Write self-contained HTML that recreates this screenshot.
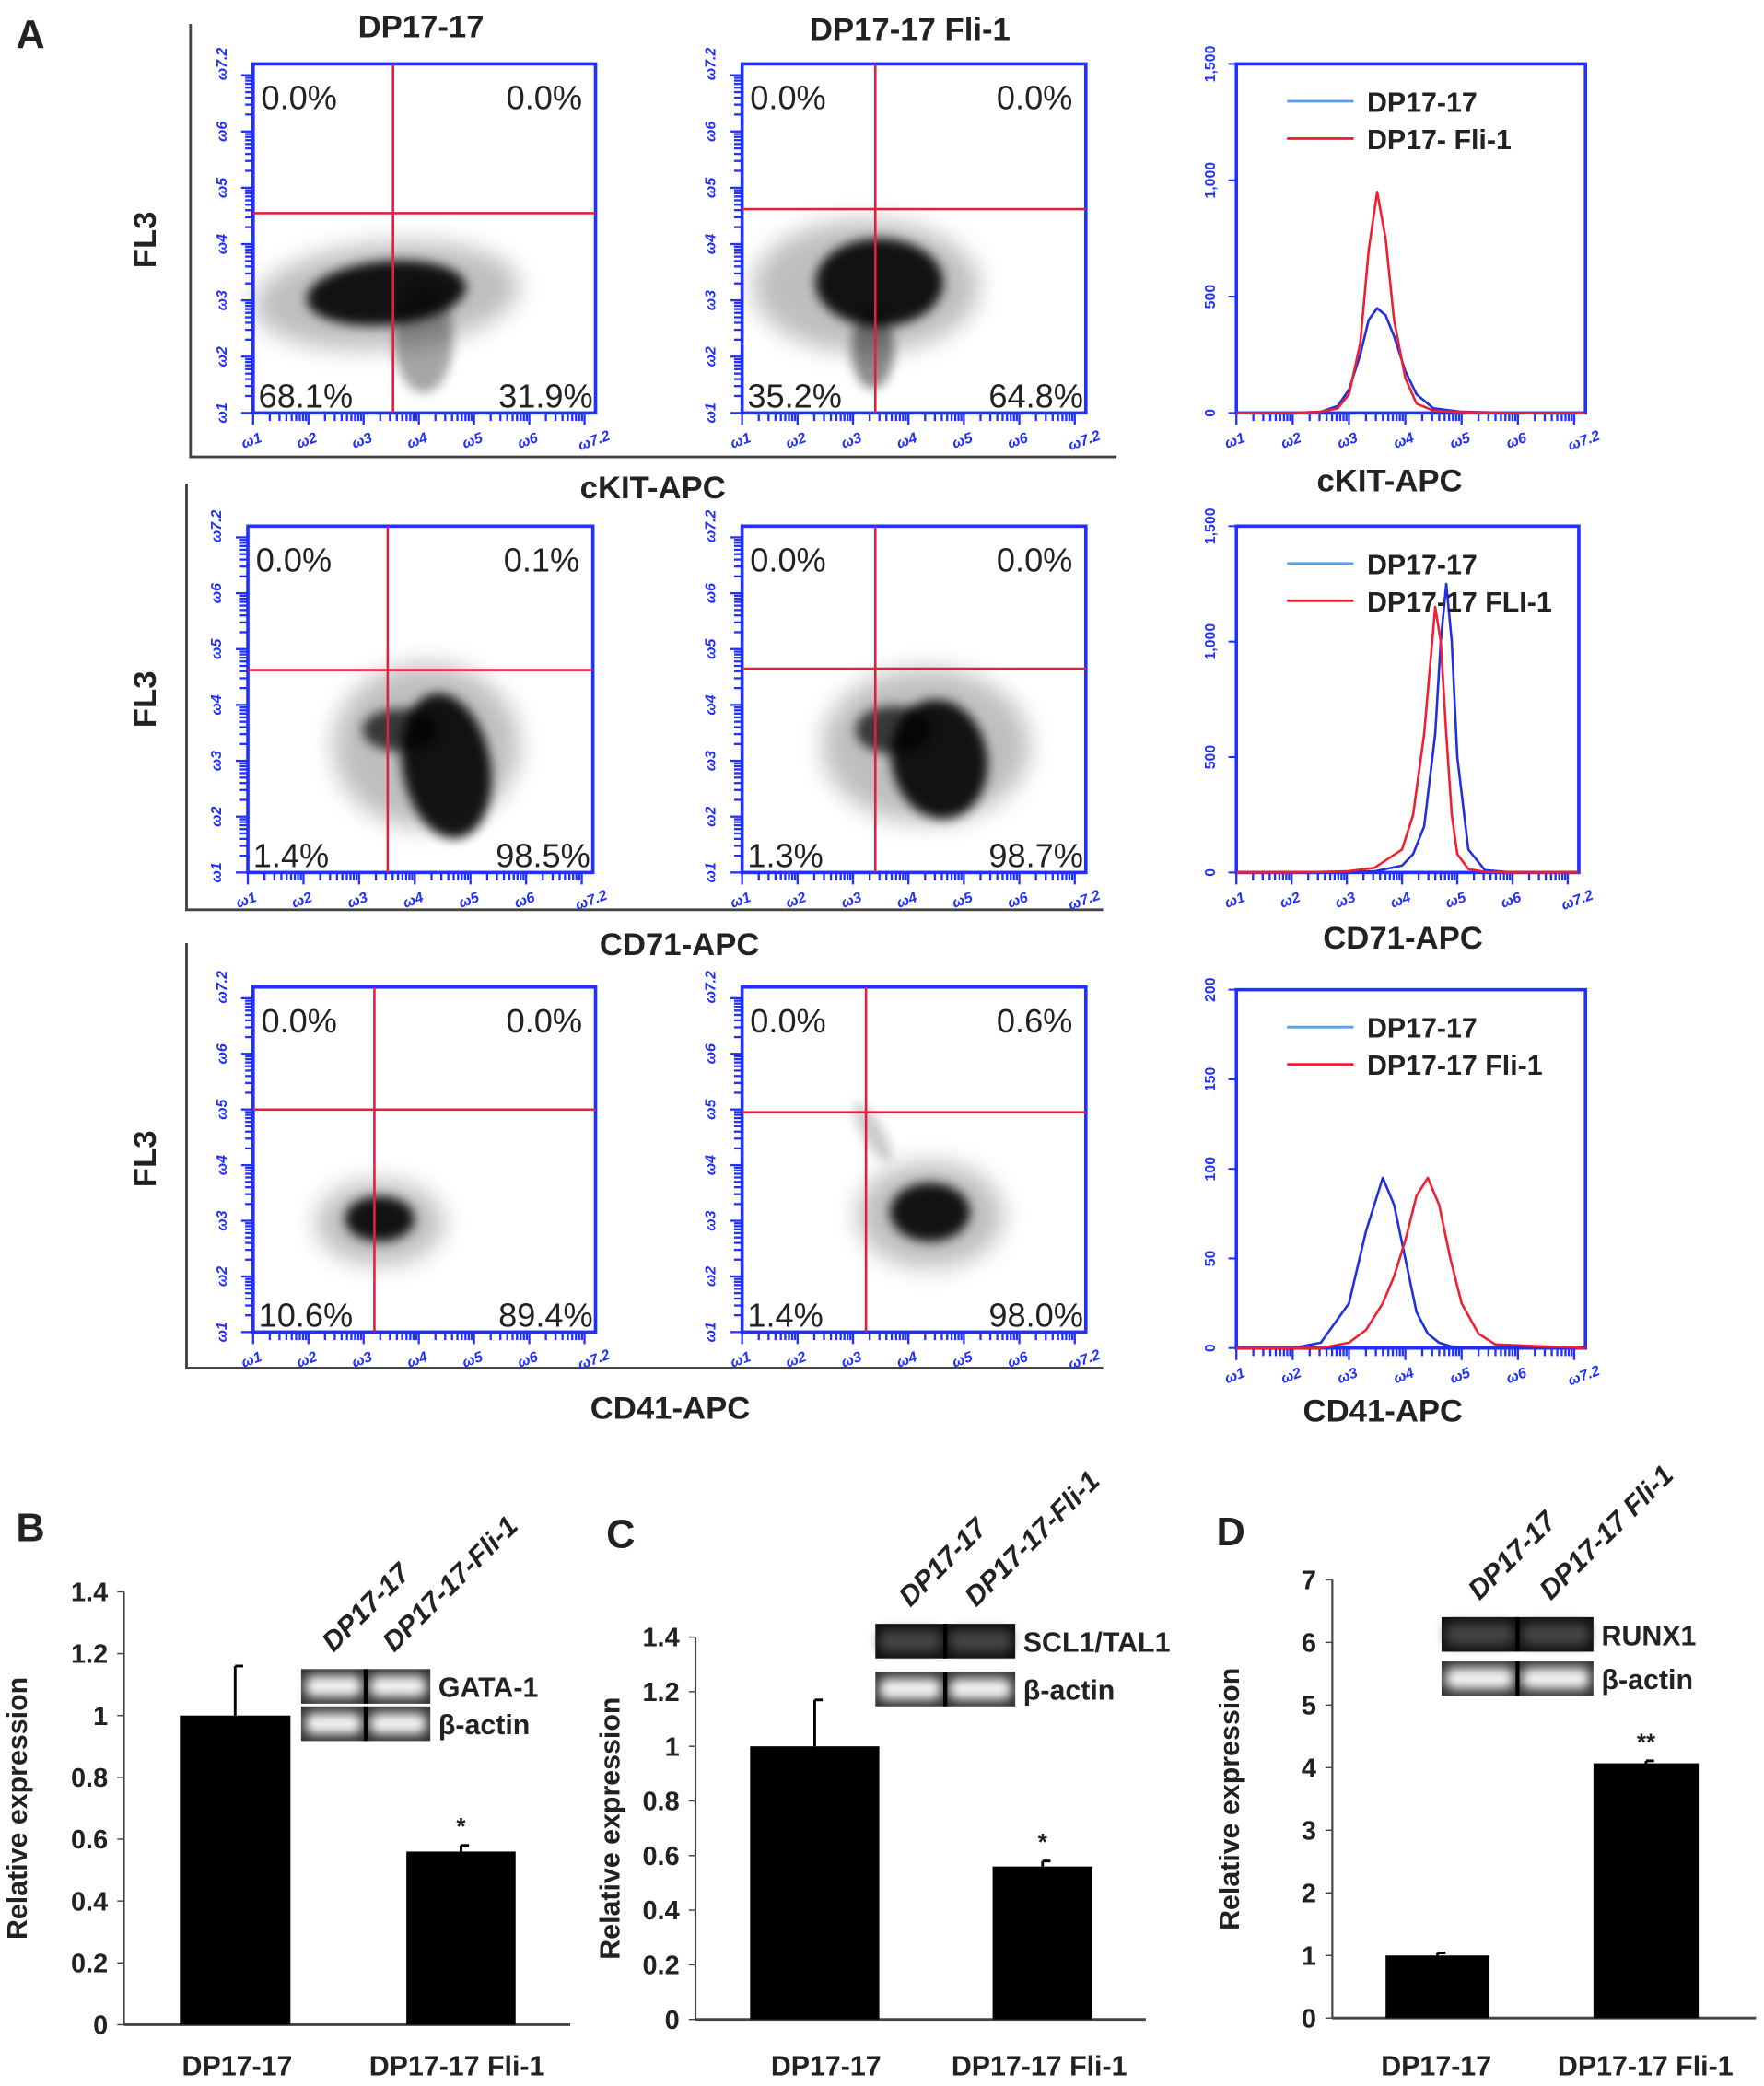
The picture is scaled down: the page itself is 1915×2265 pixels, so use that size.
<!DOCTYPE html>
<html><head><meta charset="utf-8"><style>
html,body{margin:0;padding:0;background:#fff;}
svg{display:block;font-family:"Liberation Sans",sans-serif;}
</style></head><body>
<svg id="fig" width="1915" height="2265" viewBox="0 0 1324 1566" xmlns="http://www.w3.org/2000/svg">
<defs><filter id="blur" x="-50%" y="-50%" width="200%" height="200%"><feGaussianBlur stdDeviation="4"/></filter>
<filter id="blur2" x="-50%" y="-50%" width="200%" height="200%"><feGaussianBlur stdDeviation="9"/></filter></defs>
</svg>
<script>
// ---- Histogram data (x in log10 units, y counts) ----
const h1X=[1,2,2.5,2.8,3.0,3.2,3.35,3.5,3.65,3.8,4.0,4.2,4.5,5,6,7.2];
const h1Blue=[0,0,5,30,100,250,400,450,420,330,180,80,20,5,0,0];
const h1Red=[0,0,5,20,80,300,700,950,750,400,150,40,10,3,0,0];
const h2X=[1,2,3,3.5,4.0,4.2,4.4,4.6,4.7,4.8,4.9,5.0,5.2,5.5,6,7.2];
const h2Blue=[0,0,2,5,30,80,200,600,1000,1250,1000,500,100,10,0,0];
const h2Red=[0,0,5,20,100,250,600,1150,1000,600,250,80,15,3,0,0];
const h3X=[1,2,2.5,3.0,3.3,3.6,3.8,4.0,4.2,4.4,4.6,4.8,5.0,5.3,5.6,7.2];
const h3Blue=[0,0,3,25,65,95,80,50,20,8,3,1,0,0,0,0];
const h3Red=[0,0,0,3,10,25,40,60,85,95,80,50,25,8,2,0];
const h12Ticks=[0,500,1000,1500];
const h12TickLabels=["0","500","1,000","1,500"];
const h3Ticks=[0,50,100,150,200];
const h3TickLabels=["0","50","100","150","200"];
// ---- Quadrant percentages ----
const quadLabels=[["0.0%","0.0%","68.1%","31.9%"],["0.0%","0.0%","35.2%","64.8%"],["0.0%","0.1%","1.4%","98.5%"],["0.0%","0.0%","1.3%","98.7%"],["0.0%","0.0%","10.6%","89.4%"],["0.0%","0.6%","1.4%","98.0%"]];
// ---- Bar chart data ----
const barCats=["DP17-17","DP17-17 Fli-1"];
const bVals=[1.0,0.56], bErr=[0.16,0.02];
const cVals=[1.0,0.56], cErr=[0.17,0.02];
const dVals=[1.0,4.07], dErr=[0.04,0.04];
const bTicks=["0","0.2","0.4","0.6","0.8","1","1.2","1.4"];
const dTicks=["0","1","2","3","4","5","6","7"];

const S=document.getElementById('fig'),NS="http://www.w3.org/2000/svg";
function el(t,a,p){const e=document.createElementNS(NS,t);for(const k in a)e.setAttribute(k,a[k]);(p||S).appendChild(e);return e;}
function tx(s,x,y,a,p){const e=el('text',Object.assign({x:x,y:y},a),p);e.textContent=s;return e;}

function logTicks(g,x0,y0,x1,y1,horiz){
  const L=v=>horiz? x0+(v-1)/6.2*(x1-x0) : y1-(v-1)/6.2*(y1-y0);
  for(let d=1;d<=7;d++){for(let k=1;k<=9;k++){const v=d+Math.log10(k);if(v>7.2)break;const p=L(v);const len=k==1?9:6;
    if(horiz)el('line',{x1:p,y1:y1,x2:p,y2:y1+len,stroke:'#2030ff','stroke-width':1.6},g);
    else el('line',{x1:x0,y1:p,x2:x0-len,y2:p,stroke:'#2030ff','stroke-width':1.6},g);}}
  const labs=['1','2','3','4','5','6','7.2'],vals=[1,2,3,4,5,6,7.2];
  vals.forEach((v,i)=>{const p=L(v);
    if(horiz)tx('ω'+labs[i],p,y1+24,{'font-size':11,fill:'#2030ff','text-anchor':'middle','font-style':'italic','font-weight':'bold',transform:`rotate(-20 ${p} ${y1+24})`},g);
    else tx('ω'+labs[i],x0-20,p,{'font-size':11,fill:'#2030ff','text-anchor':'middle','font-style':'italic','font-weight':'bold',transform:`rotate(-90 ${x0-20} ${p})`},g);});
}

function scatter(name,x0,y0,x1,y1,vx,hy,q,clouds){
  const g=el('g',{});
  clouds.forEach(c=>{el('ellipse',{cx:c[0],cy:c[1],rx:c[2],ry:c[3],fill:'#000',opacity:c[4],filter:c[5]?'url(#blur2)':'url(#blur)',transform:`rotate(${c[6]||0} ${c[0]} ${c[1]})`},g);});
  el('rect',{x:x0,y:y0,width:x1-x0,height:y1-y0,fill:'none',stroke:'#2030ff','stroke-width':2.5},g);
  el('line',{x1:vx,y1:y0,x2:vx,y2:y1,stroke:'#e02040','stroke-width':1.8},g);
  el('line',{x1:x0,y1:hy,x2:x1,y2:hy,stroke:'#e02040','stroke-width':1.8},g);
  logTicks(g,x0,y0,x1,y1,true);logTicks(g,x0,y0,x1,y1,false);
  const f={'font-size':25,fill:'#222'};
  tx(q[0],x0+6,y0+34,f,g);tx(q[1],x1-10,y0+34,Object.assign({'text-anchor':'end'},f),g);
  tx(q[2],x0+4,y1-4,f,g);tx(q[3],x1-2,y1-4,Object.assign({'text-anchor':'end'},f),g);
}
function hist(name,x0,y0,x1,y1,ymax,ticks,tlabs,xs,blue,red,leg){
  const g=el('g',{});
  el('rect',{x:x0,y:y0,width:x1-x0,height:y1-y0,fill:'none',stroke:'#2030ff','stroke-width':2.5},g);
  logTicks(g,x0,y0,x1,y1,true);
  const X=v=>x0+(v-1)/6.2*(x1-x0),Y=v=>y1-v/ymax*(y1-y0);
  ticks.forEach((t,i)=>{el('line',{x1:x0,y1:Y(t),x2:x0-6,y2:Y(t),stroke:'#2030ff','stroke-width':1.4},g);
    tx(tlabs[i],x0-16,Y(t),{'font-size':11,fill:'#2030ff','text-anchor':'middle','font-weight':'bold',transform:`rotate(-90 ${x0-16} ${Y(t)})`},g);});
  [[blue,'#2030e0','blue-series'],[red,'#f02030','red-series']].forEach(s=>{
    const p=el('path',{d:s[0].map((v,i)=>(i?'L':'M')+X(xs[i])+' '+Y(v)).join(''),fill:'none',stroke:s[1],'stroke-width':1.8,'stroke-linejoin':'round'},g);
    });
  el('line',{x1:x0+38,y1:y0+28,x2:x0+88,y2:y0+28,stroke:'#5aa0e8','stroke-width':2},g);
  el('line',{x1:x0+38,y1:y0+56,x2:x0+88,y2:y0+56,stroke:'#f02030','stroke-width':2},g);
  tx('DP17-17',x0+98,y0+36,{'font-size':21,'font-weight':'bold',fill:'#222'},g);
  tx(leg,x0+98,y0+64,{'font-size':21,'font-weight':'bold',fill:'#222'},g);
}
const bt={'font-weight':'bold',fill:'#222'};
tx('A',12,36,Object.assign({'font-size':30},bt));
tx('DP17-17',316,28,Object.assign({'font-size':24,'text-anchor':'middle'},bt));
tx('DP17-17 Fli-1',683,30,Object.assign({'font-size':24,'text-anchor':'middle'},bt));
[[180],[525],[870]].forEach((r,i)=>tx('FL3',117,r[0],Object.assign({'font-size':24,'text-anchor':'middle',transform:`rotate(-90 117 ${r[0]})`},bt)));
// frames
[[143,18,343,838],[140,363,683,828],[140,708,1027,828]].forEach(f=>{el('path',{d:`M${f[0]} ${f[1]}V${f[2]}H${f[3]}`,fill:'none',stroke:'#444','stroke-width':2});});
scatter('scatter-ckit-dp17',190,48,447,310,295,160,quadLabels[0],[[290,222,100,40,0.25,1,-5],[290,220,60,24,0.9,0,-5],[318,255,22,40,0.35,0,0]]);
scatter('scatter-ckit-fli1',557,48,815,310,657,157,quadLabels[1],[[650,215,85,50,0.25,1],[660,212,48,33,0.9,0,0],[655,262,16,30,0.45,0]]);
scatter('scatter-cd71-dp17',186,395,445,655,291,503,quadLabels[2],[[320,560,70,62,0.25,1],[335,575,33,55,0.9,0,-10],[300,548,28,16,0.7,0]]);
scatter('scatter-cd71-fli1',557,395,815,655,657,502,quadLabels[3],[[695,560,78,58,0.25,1],[705,570,36,45,0.9,0,-10],[670,548,28,18,0.7,0]]);
scatter('scatter-cd41-dp17',190,741,447,1000,281,833,quadLabels[4],[[285,918,48,32,0.25,1],[285,915,26,17,0.9,0]]);
scatter('scatter-cd41-fli1',557,741,815,1000,650,835,quadLabels[5],[[698,912,55,40,0.25,1],[698,910,30,22,0.9,0],[655,850,8,25,0.2,0,-30]]);
hist('hist-ckit',928,48,1190,310,1500,h12Ticks,h12TickLabels,h1X,h1Blue,h1Red,'DP17- Fli-1');
hist('hist-cd71',928,395,1185,655,1500,h12Ticks,h12TickLabels,h2X,h2Blue,h2Red,'DP17-17 FLI-1');
hist('hist-cd41',928,743,1190,1012,200,h3Ticks,h3TickLabels,h3X,h3Blue,h3Red,'DP17-17 Fli-1');
tx('cKIT-APC',490,374,Object.assign({'font-size':24,'text-anchor':'middle'},bt));
tx('cKIT-APC',1043,369,Object.assign({'font-size':24,'text-anchor':'middle'},bt));
tx('CD71-APC',510,717,Object.assign({'font-size':24,'text-anchor':'middle'},bt));
tx('CD71-APC',1053,712,Object.assign({'font-size':24,'text-anchor':'middle'},bt));
tx('CD41-APC',503,1065,Object.assign({'font-size':24,'text-anchor':'middle'},bt));
tx('CD41-APC',1038,1067,Object.assign({'font-size':24,'text-anchor':'middle'},bt));

function bars(name,letter,lx,ly,ax,yTop,yBot,xEnd,ymax,ticks,vals,errs,barX,barW,catX,star,titleX,gel){
  const g=el('g',{});
  tx(letter,lx,ly,Object.assign({'font-size':30},bt),g);
  const Y=v=>yBot-v/ymax*(yBot-yTop);
  el('line',{x1:ax,y1:yTop,x2:ax,y2:yBot,stroke:'#444','stroke-width':1.5},g);
  el('line',{x1:ax,y1:yBot,x2:xEnd,y2:yBot,stroke:'#444','stroke-width':2},g);
  ticks.forEach((t,i)=>{const v=ymax*i/(ticks.length-1);el('line',{x1:ax-5,y1:Y(v),x2:ax,y2:Y(v),stroke:'#444'},g);
    tx(t,ax-12,Y(v)+7,{'font-size':20,'font-weight':'bold',fill:'#222','text-anchor':'end'},g);});
  vals.forEach((v,i)=>{const r=el('rect',{x:barX[i],y:Y(v),width:barW[i],height:yBot-Y(v),fill:'#000'},g);
    
    const cx=barX[i]+barW[i]/2;el('line',{x1:cx,y1:Y(v),x2:cx,y2:Y(v+errs[i]),stroke:'#000','stroke-width':2},g);
    el('line',{x1:cx,y1:Y(v+errs[i]),x2:cx+6,y2:Y(v+errs[i]),stroke:'#000','stroke-width':2},g);
    tx(barCats[i],catX[i],1558,{'font-size':21,'font-weight':'bold',fill:'#222','text-anchor':'middle'},g);
    if(i==1)tx(star,cx,Y(v+errs[i])-8,{'font-size':18,'font-weight':'bold',fill:'#222','text-anchor':'middle'},g);});
  const my=(yTop+yBot)/2;
  tx('Relative  expression',titleX,my,{'font-size':21,'font-weight':'bold',fill:'#222','text-anchor':'middle',transform:`rotate(-90 ${titleX} ${my})`},g);
  // gel
  const [gx,gw,b1,b2,lab1,lab2,dark,rl]=gel;
  [[b1,dark],[b2,false]].forEach(b=>{el('rect',{x:gx,y:b[0],width:gw,height:26,fill:b[1]?'#111':'#333'},g);
    [0,1].forEach(k=>el('rect',{x:gx+3+k*gw/2,y:b[0]+5,width:gw/2-6,height:16,rx:6,fill:b[1]?'#444':'#f2f2f2',filter:'url(#blur)'},g));
    el('line',{x1:gx+gw/2,y1:b[0],x2:gx+gw/2,y2:b[0]+26,stroke:'#000','stroke-width':3},g);});
  tx(lab1,gx+gw+6,b1+21,{'font-size':21,'font-weight':'bold',fill:'#222'},g);
  tx(lab2,gx+gw+6,b2+21,{'font-size':21,'font-weight':'bold',fill:'#222'},g);
  tx('DP17-17',gx+gw*0.25,b1-12,{'font-size':21,'font-weight':'bold','font-style':'italic',fill:'#222',transform:`rotate(-45 ${gx+gw*0.25} ${b1-12})`},g);
  tx(rl,gx+gw*0.72,b1-12,{'font-size':21,'font-weight':'bold','font-style':'italic',fill:'#222',transform:`rotate(-45 ${gx+gw*0.72} ${b1-12})`},g);
}
bars('bar-chart-gata1','B',12,1157,93,1195,1520,428,1.4,bTicks,bVals,bErr,[135,305],[83,82],[178,343],'*',20,[226,97,1253,1281,'GATA-1','β-actin',false,'DP17-17-Fli-1']);
bars('bar-chart-scl1','C',455,1162,522,1229,1516,860,1.4,bTicks,cVals,cErr,[563,745],[97,75],[620,780],'*',465,[657,105,1219,1255,'SCL1/TAL1','β-actin',true,'DP17-17-Fli-1']);
bars('bar-chart-runx1','D',913,1160,1000,1186,1515,1318,7,dTicks,dVals,dErr,[1040,1196],[78,79],[1078,1235],'**',930,[1082,114,1214,1247,'RUNX1','β-actin',true,'DP17-17 Fli-1']);
</script>
</body></html>
